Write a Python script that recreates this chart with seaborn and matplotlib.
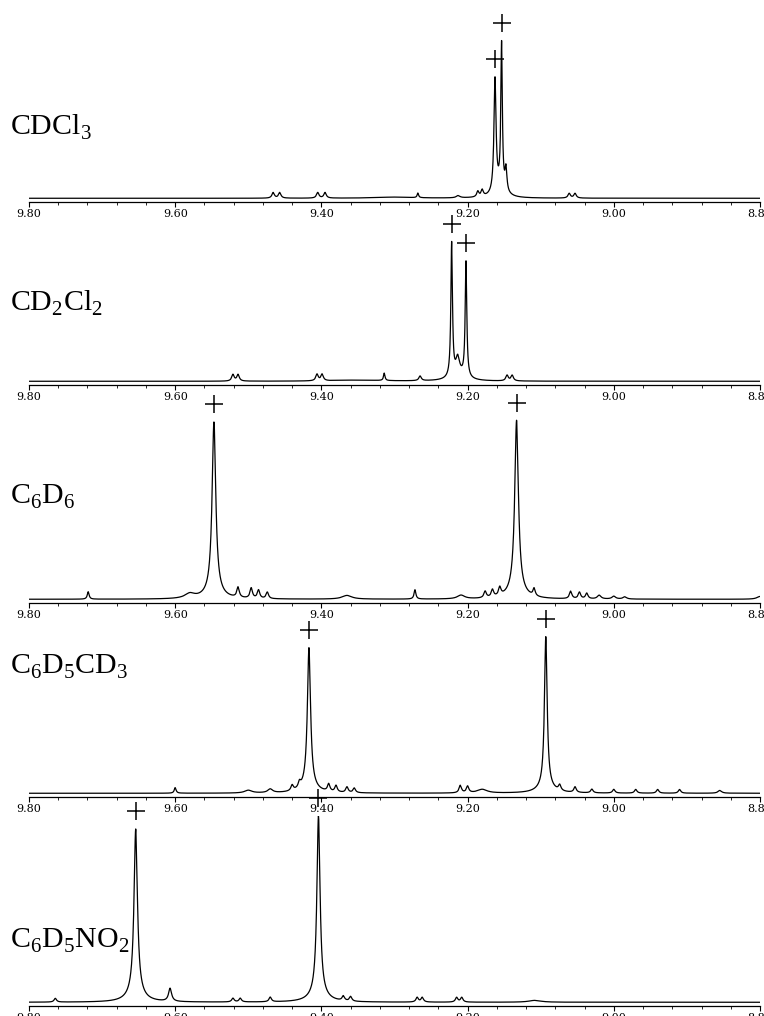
#Import libraries
import numpy as np
import pandas as pd
import seaborn as sns
import matplotlib.pyplot as plt
from matplotlib.ticker import MultipleLocator, FormatStrFormatter

#Solvent labels for the five panels
solvents = ['CDCl$_\\mathregular{3}$',
            'CD$_\\mathregular{2}$Cl$_\\mathregular{2}$',
            'C$_\\mathregular{6}$D$_\\mathregular{6}$',
            'C$_\\mathregular{6}$D$_\\mathregular{5}$CD$_\\mathregular{3}$',
            'C$_\\mathregular{6}$D$_\\mathregular{5}$NO$_\\mathregular{2}$']

#Peak tables (ppm, intensity, half width)
cdcl3_ppm = [9.466, 9.457, 9.405, 9.395, 9.268, 9.213, 9.186, 9.180, 9.1625, 9.1535, 9.1475, 9.155, 9.061, 9.053, 9.30]
cdcl3_amp = [0.03, 0.03, 0.03, 0.03, 0.025, 0.012, 0.03, 0.035, 0.61, 0.77, 0.12, 0.05, 0.025, 0.025, 0.006]
cdcl3_hw = [0.002, 0.002, 0.002, 0.002, 0.0012, 0.003, 0.0018, 0.0018, 0.0017, 0.0012, 0.0015, 0.008, 0.002, 0.002, 0.03]
cdcl3_marks = [9.1625, 9.1535]

cd2cl2_ppm = [9.521, 9.514, 9.406, 9.399, 9.314, 9.265, 9.2218, 9.2022, 9.2135, 9.212, 9.146, 9.139, 9.35]
cd2cl2_amp = [0.035, 0.035, 0.035, 0.035, 0.04, 0.025, 0.72, 0.62, 0.09, 0.03, 0.03, 0.03, 0.006]
cd2cl2_hw = [0.002, 0.002, 0.002, 0.002, 0.0012, 0.002, 0.0013, 0.0013, 0.003, 0.012, 0.002, 0.002, 0.04]
cd2cl2_marks = [9.2218, 9.2022]

c6d6_ppm = [9.719, 9.58, 9.547, 9.547, 9.514, 9.496, 9.486, 9.474, 9.365, 9.272, 9.209, 9.176, 9.166, 9.156,
            9.133, 9.133, 9.109, 9.059, 9.047, 9.037, 9.02, 9.00, 8.985, 8.80]
c6d6_amp = [0.04, 0.025, 0.92, 0.03, 0.055, 0.055, 0.045, 0.035, 0.02, 0.05, 0.02, 0.035, 0.04, 0.045,
            0.92, 0.04, 0.04, 0.04, 0.035, 0.03, 0.02, 0.015, 0.012, 0.015]
c6d6_hw = [0.0015, 0.008, 0.003, 0.012, 0.002, 0.002, 0.002, 0.002, 0.008, 0.0015, 0.006, 0.002, 0.002, 0.002,
           0.003, 0.012, 0.0018, 0.002, 0.002, 0.002, 0.003, 0.003, 0.003, 0.005]
c6d6_marks = [9.547, 9.133]

c6d5cd3_ppm = [9.60, 9.50, 9.47, 9.44, 9.43, 9.417, 9.417, 9.39, 9.38, 9.365, 9.355, 9.21, 9.20, 9.18,
               9.093, 9.093, 9.074, 9.053, 9.03, 9.00, 8.97, 8.94, 8.91, 8.855]
c6d5cd3_amp = [0.03, 0.015, 0.02, 0.03, 0.03, 0.75, 0.03, 0.04, 0.035, 0.03, 0.025, 0.04, 0.035, 0.02,
               0.81, 0.03, 0.03, 0.03, 0.02, 0.02, 0.02, 0.02, 0.02, 0.015]
c6d5cd3_hw = [0.0015, 0.006, 0.004, 0.002, 0.002, 0.0026, 0.012, 0.002, 0.002, 0.002, 0.002, 0.002, 0.002, 0.008,
              0.0022, 0.012, 0.002, 0.002, 0.002, 0.002, 0.002, 0.002, 0.002, 0.003]
c6d5cd3_marks = [9.417, 9.093]

c6d5no2_ppm = [9.764, 9.654, 9.654, 9.607, 9.521, 9.511, 9.470, 9.404, 9.404, 9.370, 9.360, 9.269, 9.262, 9.215, 9.208, 9.108]
c6d5no2_amp = [0.02, 0.89, 0.04, 0.07, 0.02, 0.02, 0.025, 0.96, 0.04, 0.025, 0.025, 0.025, 0.025, 0.025, 0.025, 0.01]
c6d5no2_hw = [0.002, 0.0028, 0.012, 0.0025, 0.002, 0.002, 0.002, 0.0026, 0.012, 0.002, 0.002, 0.002, 0.002, 0.002, 0.002, 0.01]
c6d5no2_marks = [9.654, 9.404]

panels = [(cdcl3_ppm, cdcl3_amp, cdcl3_hw, cdcl3_marks),
          (cd2cl2_ppm, cd2cl2_amp, cd2cl2_hw, cd2cl2_marks),
          (c6d6_ppm, c6d6_amp, c6d6_hw, c6d6_marks),
          (c6d5cd3_ppm, c6d5cd3_amp, c6d5cd3_hw, c6d5cd3_marks),
          (c6d5no2_ppm, c6d5no2_amp, c6d5no2_hw, c6d5no2_marks)]

#Layout in pixels (spine y and label baseline y of each panel)
W, H = 764, 1016
spine_y = [202, 385, 603, 797, 1006]
label_y = [135, 311, 504, 674, 948]
panel_h = 190


#Sum of Lorentzian lines from a peak table
def spectrum(x, ppm, amp, hw):
    y = np.zeros_like(x)
    for p, a, w in zip(ppm, amp, hw):
        y += a / (1 + ((x - p) / w) ** 2)
    return y


sns.set_style('white')
plt.rcParams['font.family'] = ['Liberation Serif', 'DejaVu Serif']
plt.rcParams['mathtext.fontset'] = 'custom'
plt.rcParams['mathtext.rm'] = 'Liberation Serif'
plt.rcParams['text.color'] = 'black'
plt.rcParams['xtick.color'] = 'black'

fig = plt.figure(figsize=(W / 100, H / 100), dpi=100)
x = np.linspace(8.80, 9.80, 8001)

for i, (ppm, amp, hw, marks) in enumerate(panels):
    ax = fig.add_axes([29 / W, 1 - spine_y[i] / H, 731 / W, panel_h / H])
    df = pd.DataFrame({'ppm': x, 'intensity': spectrum(x, ppm, amp, hw)})
    sns.lineplot(data=df, x='ppm', y='intensity', ax=ax, color='black',
                 linewidth=0.9, estimator=None, sort=False)

    #Plus marks above the labelled peaks
    mx = np.array(marks)
    my = spectrum(mx, ppm, amp, hw) + 0.095
    ax.plot(mx, my, linestyle='none', marker='+', markersize=12.5,
            markeredgewidth=1.1, color='black', clip_on=False)

    ax.set_xlim(9.80, 8.80)
    ax.set_ylim(-0.02, 1.0)
    ax.set_xlabel('')
    ax.set_ylabel('')
    ax.set_yticks([])
    for side in ['left', 'top', 'right']:
        ax.spines[side].set_visible(False)
    ax.spines['bottom'].set_linewidth(0.9)
    ax.spines['bottom'].set_color('black')
    ax.patch.set_alpha(0)

    ax.xaxis.set_major_locator(MultipleLocator(0.2))
    ax.xaxis.set_minor_locator(MultipleLocator(0.04))
    ax.xaxis.set_major_formatter(FormatStrFormatter('%.2f'))
    ax.tick_params(axis='x', which='major', bottom=True, length=3.6, width=0.8,
                   pad=1.2, labelsize=8, colors='black')
    ax.tick_params(axis='x', which='minor', bottom=True, length=1.8, width=0.6, colors='black')
    for lab in ax.get_xticklabels():
        lab.set_family('DejaVu Serif')

    fig.text(10 / W, 1 - label_y[i] / H, solvents[i], fontsize=21.5,
             va='baseline', ha='left', color='black')

fig.savefig('out.png', dpi=100)
